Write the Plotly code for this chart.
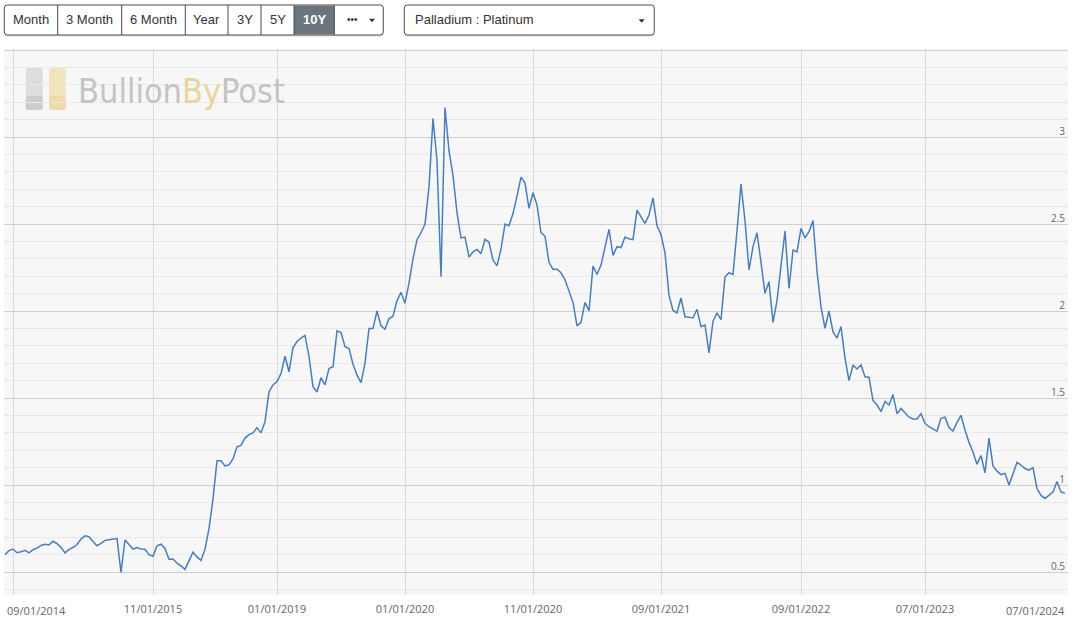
import plotly.graph_objects as go

# palladium : platinum price ratio, one value per point on the (ordinal) time axis
ratio = [
    0.60, 0.623, 0.632, 0.611, 0.616, 0.625, 0.61, 0.628, 0.637, 0.653,
    0.659, 0.656, 0.677, 0.663, 0.642, 0.61, 0.63, 0.641, 0.658, 0.69,
    0.708, 0.703, 0.676, 0.651, 0.665, 0.682, 0.685, 0.687, 0.692, 0.498,
    0.684, 0.658, 0.632, 0.641, 0.632, 0.631, 0.60, 0.59, 0.65, 0.66,
    0.636, 0.574, 0.575, 0.551, 0.536, 0.515, 0.567, 0.614, 0.587, 0.567,
    0.63, 0.75, 0.92, 1.14, 1.139, 1.11, 1.116, 1.15, 1.22, 1.228,
    1.27, 1.29, 1.30, 1.33, 1.30, 1.364, 1.536, 1.575, 1.595, 1.64,
    1.74, 1.651, 1.79, 1.825, 1.845, 1.86, 1.74, 1.565, 1.535, 1.617,
    1.576, 1.67, 1.68, 1.886, 1.876, 1.795, 1.785, 1.694, 1.632, 1.588,
    1.70, 1.90, 1.90, 2.0, 1.915, 1.895, 1.957, 1.97, 2.06, 2.108,
    2.045, 2.16, 2.30, 2.41, 2.45, 2.50, 2.714, 3.107, 2.864, 2.197,
    3.17, 2.92, 2.78, 2.565, 2.42, 2.425, 2.31, 2.34, 2.354, 2.33,
    2.412, 2.395, 2.293, 2.26, 2.356, 2.50, 2.49, 2.56, 2.66, 2.77,
    2.735, 2.59, 2.68, 2.61, 2.45, 2.43, 2.28, 2.24, 2.24, 2.22,
    2.18, 2.12, 2.05, 1.915, 1.935, 2.05, 2.0, 2.258, 2.21, 2.264,
    2.37, 2.469, 2.32, 2.37, 2.365, 2.425, 2.415, 2.41, 2.58, 2.54,
    2.504, 2.552, 2.65, 2.49, 2.44, 2.335, 2.09, 2.003, 1.99, 2.075,
    1.967, 1.965, 1.96, 2.01, 1.91, 1.92, 1.76, 1.94, 1.99, 1.95,
    2.197, 2.22, 2.21, 2.46, 2.73, 2.52, 2.236, 2.37, 2.45, 2.28,
    2.102, 2.169, 1.935, 2.06, 2.27, 2.46, 2.13, 2.35, 2.34, 2.475,
    2.42, 2.456, 2.52, 2.23, 2.025, 1.90, 2.0, 1.88, 1.845, 1.91,
    1.73, 1.60, 1.69, 1.667, 1.69, 1.622, 1.62, 1.485, 1.461, 1.422,
    1.48, 1.46, 1.52, 1.41, 1.44, 1.415, 1.39, 1.38, 1.38, 1.41,
    1.355, 1.335, 1.32, 1.31, 1.383, 1.39, 1.33, 1.31, 1.36, 1.40,
    1.316, 1.245, 1.19, 1.12, 1.17, 1.07, 1.27, 1.11, 1.08, 1.06,
    1.067, 1.0, 1.065, 1.13, 1.115, 1.095, 1.085, 1.10, 0.98, 0.94,
    0.923, 0.94, 0.96, 1.02, 0.96, 0.952,
]

# x tick labels sit on these point indices
tick_pos = [2, 37, 68, 100, 132, 164, 199, 230, 262]
tick_labels = ["09/01/2014", "11/01/2015", "01/01/2019", "01/01/2020", "11/01/2020",
               "09/01/2021", "09/01/2022", "07/01/2023", "07/01/2024"]
y_ticks = [0.5, 1, 1.5, 2, 2.5, 3, 3.5]
y_labels = ["0.5", "1", "1.5", "2", "2.5", "3", ""]

range_buttons = ["Month", "3 Month", "6 Month", "Year", "3Y", "5Y", "10Y", "•••"]
active_button = "10Y"
metal_pair = "Palladium : Platinum"

W, H = 1075, 626
L, R, T, B = 4, 7, 49, 31
FONT = "Liberation Sans, Arial, sans-serif"


def px(x):
    return (x - L) / (W - L - R)


def py(y):
    return (H - B - y) / (H - T - B)


def rrect(x0, y0, x1, y1, r):
    pts = [("M", x0 + r, y0), ("L", x1 - r, y0), ("Q", x1, y0, x1, y0 + r),
           ("L", x1, y1 - r), ("Q", x1, y1, x1 - r, y1), ("L", x0 + r, y1),
           ("Q", x0, y1, x0, y1 - r), ("L", x0, y0 + r), ("Q", x0, y0, x0 + r, y0)]
    out = []
    for p in pts:
        cmd, nums = p[0], p[1:]
        coords = []
        for k in range(0, len(nums), 2):
            coords.append(f"{px(nums[k]):.5f},{py(nums[k + 1]):.5f}")
        out.append(cmd + " " + " ".join(coords))
    return " ".join(out) + " Z"


def tri(xc, yc, w=7, h=4):
    return (f"M {px(xc - w / 2):.5f},{py(yc - h / 2):.5f} L {px(xc + w / 2):.5f},{py(yc - h / 2):.5f} "
            f"L {px(xc):.5f},{py(yc + h / 2):.5f} Z")


fig = go.Figure()
fig.add_trace(go.Scatter(
    x=list(range(len(ratio))), y=ratio, mode="lines",
    line=dict(color="#4a7ebb", width=1.5), hoverinfo="y", showlegend=False,
))

shapes = []
annotations = []

# button bar
edges = [4.3, 57.7, 121.7, 185.3, 228, 261, 294, 334.3, 383.3]
shapes.append(dict(type="path", xref="paper", yref="paper", path=rrect(4.3, 6.5, 383.3, 36.5, 3),
                   fillcolor="rgba(0,0,0,0.12)", line=dict(width=0), layer="above"))
shapes.append(dict(type="path", xref="paper", yref="paper", path=rrect(4.3, 5, 383.3, 35, 3),
                   fillcolor="white", line=dict(color="#4a4a4a", width=1), layer="above"))
ai = range_buttons.index(active_button)
shapes.append(dict(type="rect", xref="paper", yref="paper",
                   x0=px(edges[ai]), x1=px(edges[ai + 1]), y0=py(5.5), y1=py(34.5),
                   fillcolor="#6c757d", line=dict(width=0), layer="above"))
for e in edges[1:-1]:
    shapes.append(dict(type="line", xref="paper", yref="paper", x0=px(e), x1=px(e),
                       y0=py(5), y1=py(35), line=dict(color="#4a4a4a", width=1), layer="above"))
for k, name in enumerate(range_buttons):
    cx = (edges[k] + edges[k + 1]) / 2
    if name == "•••":
        cx -= 6
    active = name == active_button
    annotations.append(dict(
        x=px(cx), y=py(20), xref="paper", yref="paper", text=f"<b>{name}</b>" if active else name,
        showarrow=False, xanchor="center", yanchor="middle",
        font=dict(family=FONT, size=13 if name != "•••" else 10, color="white" if active else "#333333"),
    ))
shapes.append(dict(type="path", xref="paper", yref="paper", path=tri(372, 20.5, 6, 3.5),
                   fillcolor="#333333", line=dict(width=0), layer="above"))

# metal pair dropdown
shapes.append(dict(type="path", xref="paper", yref="paper", path=rrect(404.3, 6.5, 654.3, 36.5, 3),
                   fillcolor="rgba(0,0,0,0.12)", line=dict(width=0), layer="above"))
shapes.append(dict(type="path", xref="paper", yref="paper", path=rrect(404.3, 5, 654.3, 35, 3),
                   fillcolor="white", line=dict(color="#4a4a4a", width=1), layer="above"))
annotations.append(dict(x=px(413), y=py(20), xref="paper", yref="paper", text=metal_pair,
                        showarrow=False, xanchor="left", yanchor="middle",
                        font=dict(family=FONT, size=13, color="#333333")))
shapes.append(dict(type="path", xref="paper", yref="paper", path=tri(641.7, 21, 6, 3.5),
                   fillcolor="#333333", line=dict(width=0), layer="above"))

# watermark logo
shapes.append(dict(type="path", xref="paper", yref="paper", path=rrect(25.7, 68, 42.7, 110, 3),
                   fillcolor="#dddddd", line=dict(width=0), layer="below"))
shapes.append(dict(type="path", xref="paper", yref="paper", path=rrect(25.7, 96, 42.7, 110, 3),
                   fillcolor="#cdcdcd", line=dict(width=0), layer="below"))
shapes.append(dict(type="path", xref="paper", yref="paper", path=rrect(49, 68, 65.7, 110, 3),
                   fillcolor="#f3e3bd", line=dict(width=0), layer="below"))
shapes.append(dict(type="path", xref="paper", yref="paper", path=rrect(49, 96, 65.7, 110, 3),
                   fillcolor="#eedaab", line=dict(width=0), layer="below"))
annotations.append(dict(
    x=px(76), y=py(91), xref="paper", yref="paper",
    text="Bullion<span style='color:#ead49e'>By</span>Post",
    showarrow=False, xanchor="left", yanchor="middle",
    font=dict(family="DejaVu Sans Condensed, Liberation Sans Narrow, sans-serif", size=34, color="#c4c4c4"),
))

# edge x labels are pushed inside the plot width
annotations.append(dict(x=0, y=0, xref="paper", yref="paper", text=tick_labels[0], showarrow=False,
                        xanchor="left", yanchor="top", xshift=1, yshift=-6,
                        font=dict(family="Open Sans", size=11, color="#666666")))
annotations.append(dict(x=1, y=0, xref="paper", yref="paper", text=tick_labels[-1], showarrow=False,
                        xanchor="right", yanchor="top", xshift=-1, yshift=-6,
                        font=dict(family="Open Sans", size=11, color="#666666")))

fig.update_layout(
    width=W, height=H,
    margin=dict(l=L, r=R, t=T, b=B),
    paper_bgcolor="white", plot_bgcolor="#f7f7f7",
    shapes=shapes, annotations=annotations,
    xaxis=dict(
        range=[-0.25, len(ratio) - 0.25],
        tickmode="array", tickvals=tick_pos,
        ticktext=[""] + tick_labels[1:-1] + [""],
        showgrid=True, gridcolor="#dcdcdc", gridwidth=1,
        zeroline=False, showline=False, ticks="", ticklabelstandoff=6,
        tickfont=dict(family="Open Sans", size=11, color="#666666"),
        fixedrange=True,
    ),
    yaxis=dict(
        range=[0.368, 3.506], side="right",
        tickmode="array", tickvals=y_ticks, ticktext=y_labels,
        ticklabelposition="inside", ticklabelshift=-6,
        showgrid=True, gridcolor="#cfcfcf", gridwidth=1,
        minor=dict(tickmode="linear", tick0=0, dtick=0.1, showgrid=True, gridcolor="#e9e9e9"),
        zeroline=False, showline=False, ticks="",
        tickfont=dict(family="Open Sans", size=10, color="#666666"),
        fixedrange=True,
    ),
)

# the page must not add the browser's default 8px body margin
fig.write_html("out.html", config={"displayModeBar": False},
               post_script="document.body.style.margin='0';document.body.style.overflow='hidden';")
